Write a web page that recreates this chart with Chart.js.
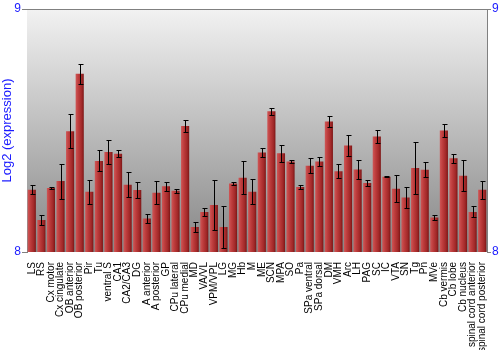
<!DOCTYPE html>
<html>
<head>
<meta charset="utf-8">
<script src="https://cdn.jsdelivr.net/npm/chart.js@4"></script>
<style>
  html, body { margin: 0; padding: 0; background: #fff; }
  #wrap { width: 500px; height: 350px; }
</style>
</head>
<body>
<div id="wrap"><canvas id="chart"></canvas></div>
<script>
const regions = ["LS", "RS", "Cx motor", "Cx cingulate", "OB anterior", "OB posterior", "Pir", "Tu",
	"ventral S", "CA1", "CA2/CA3", "DG", "A anterior", "A posterior", "GP", "CPu lateral",
	"CPu medial", "MD", "VA/VL", "VPM/VPL", "LG", "MG", "Hb", "M", "ME", "SCN", "MPA", "SO",
	"Pa", "SPa ventral", "SPa dorsal", "DM", "VMH", "Arc", "LH", "PAG", "SC", "IC", "VTA", "SN",
	"Tg", "Pn", "MVe", "Cb vermis", "Cb lobe", "Cb nucleus", "spinal cord anterior", "spinal cord posterior"];
const expression = [8.256, 8.132, 8.263, 8.292, 8.497, 8.734, 8.248, 8.375,
	8.412, 8.404, 8.277, 8.255, 8.138, 8.244, 8.271, 8.252,
	8.519, 8.103, 8.165, 8.193, 8.103, 8.282, 8.306, 8.248, 8.409, 8.579, 8.406, 8.372,
	8.267, 8.355, 8.372, 8.537, 8.332, 8.438, 8.339, 8.284, 8.475, 8.310, 8.260, 8.224,
	8.346, 8.338, 8.142, 8.500, 8.386, 8.314, 8.165, 8.256];
const errors = [0.018, 0.020, 0.003, 0.072, 0.071, 0.041, 0.050, 0.043,
	0.048, 0.015, 0.052, 0.034, 0.017, 0.048, 0.018, 0.009,
	0.024, 0.019, 0.017, 0.104, 0.085, 0.005, 0.069, 0.051, 0.017, 0.014, 0.036, 0.007,
	0.008, 0.031, 0.019, 0.024, 0.029, 0.042, 0.040, 0.012, 0.027, 0.003, 0.055, 0.042,
	0.107, 0.031, 0.010, 0.027, 0.019, 0.064, 0.023, 0.036];
const y_ticks = [8, 9];

const axis_blue = "#1a1aff";
const axis_gray = "#808080";
const bar_frac = 0.85;

// gradient backdrop of the plot area, plus the top frame line
const backdrop = {
	id: "backdrop",
	beforeDatasetsDraw(chart) {
		const {ctx, chartArea: a} = chart;
		const g = ctx.createLinearGradient(0, a.top, 0, a.bottom);
		g.addColorStop(0, "#f2f2f2");
		g.addColorStop(1, "#868686");
		ctx.save();
		ctx.fillStyle = g;
		ctx.fillRect(a.left, a.top, a.right - a.left, a.bottom - a.top);
		ctx.strokeStyle = axis_gray;
		ctx.lineWidth = 1;
		ctx.beginPath();
		ctx.moveTo(a.left, a.top + 0.5);
		ctx.lineTo(a.right, a.top + 0.5);
		ctx.stroke();
		ctx.restore();
	}
};

// error bars from the y scale
const errorbars = {
	id: "errorbars",
	afterDatasetsDraw(chart) {
		const {ctx, scales} = chart;
		const meta = chart.getDatasetMeta(0);
		ctx.save();
		ctx.strokeStyle = "#000";
		ctx.lineWidth = 1;
		meta.data.forEach((bar, i) => {
			const x = Math.round(bar.x) + 0.5;
			const y1 = Math.round(scales.y.getPixelForValue(expression[i] + errors[i])) + 0.5;
			const y2 = Math.round(scales.y.getPixelForValue(expression[i] - errors[i])) + 0.5;
			ctx.beginPath();
			ctx.moveTo(x, y1); ctx.lineTo(x, y2);
			ctx.moveTo(x - 2, y1); ctx.lineTo(x + 3, y1);
			ctx.moveTo(x - 2, y2); ctx.lineTo(x + 3, y2);
			ctx.stroke();
		});
		ctx.restore();
	}
};

function bar_fill(c) {
	const chart = c.chart;
	const xs = chart.scales.x;
	if (!xs || !chart.chartArea) return "#b03838";
	const cx = xs.getPixelForValue(c.dataIndex);
	const w = (xs.width / regions.length) * bar_frac;
	const g = chart.ctx.createLinearGradient(cx - w / 2, 0, cx + w / 2, 0);
	g.addColorStop(0, "#cf5656");
	g.addColorStop(0.35, "#bd3c3c");
	g.addColorStop(0.75, "#a12828");
	g.addColorStop(1, "#7c1616");
	return g;
}

const tick_font = {family: "'Liberation Sans', Arial, sans-serif", size: 12};

new Chart(document.getElementById("chart"), {
	type: "bar",
	data: {
		labels: regions,
		datasets: [{
			data: expression,
			backgroundColor: bar_fill,
			borderWidth: 0,
			categoryPercentage: 1,
			barPercentage: bar_frac
		}]
	},
	options: {
		responsive: true,
		maintainAspectRatio: false,
		animation: false,
		devicePixelRatio: 1,
		layout: {padding: {top: 9, left: 0, right: 0, bottom: 0}},
		plugins: {
			legend: {display: false},
			tooltip: {enabled: false}
		},
		scales: {
			x: {
				grid: {display: false},
				border: {display: false},
				ticks: {
					autoSkip: false,
					minRotation: 90,
					maxRotation: 90,
					padding: 2,
					color: "#000",
					font: {family: "'Liberation Sans', Arial, sans-serif", size: 10}
				},
				afterFit(s) { s.height = 98; }
			},
			y: {
				position: "left",
				min: 8,
				max: 9,
				grid: {display: true, drawOnChartArea: false, drawTicks: true, tickLength: 5, color: axis_gray},
				border: {display: true, color: axis_gray},
				afterBuildTicks(s) { s.ticks = y_ticks.map(v => ({value: v})); },
				ticks: {color: axis_blue, font: tick_font, padding: 1},
				title: {
					display: true,
					text: "Log2 (expression)",
					color: axis_blue,
					font: {family: "'Liberation Sans', Arial, sans-serif", size: 13},
					padding: {top: 0, bottom: 0}
				},
				afterFit(s) { s.width = 27; }
			},
			y2: {
				position: "right",
				min: 8,
				max: 9,
				grid: {display: true, drawOnChartArea: false, drawTicks: true, tickLength: 4, color: axis_gray},
				border: {display: true, color: axis_gray},
				afterBuildTicks(s) { s.ticks = y_ticks.map(v => ({value: v})); },
				ticks: {color: axis_blue, font: tick_font, padding: 1},
				afterFit(s) { s.width = 13; }
			}
		}
	},
	plugins: [backdrop, errorbars]
});
</script>
</body>
</html>
